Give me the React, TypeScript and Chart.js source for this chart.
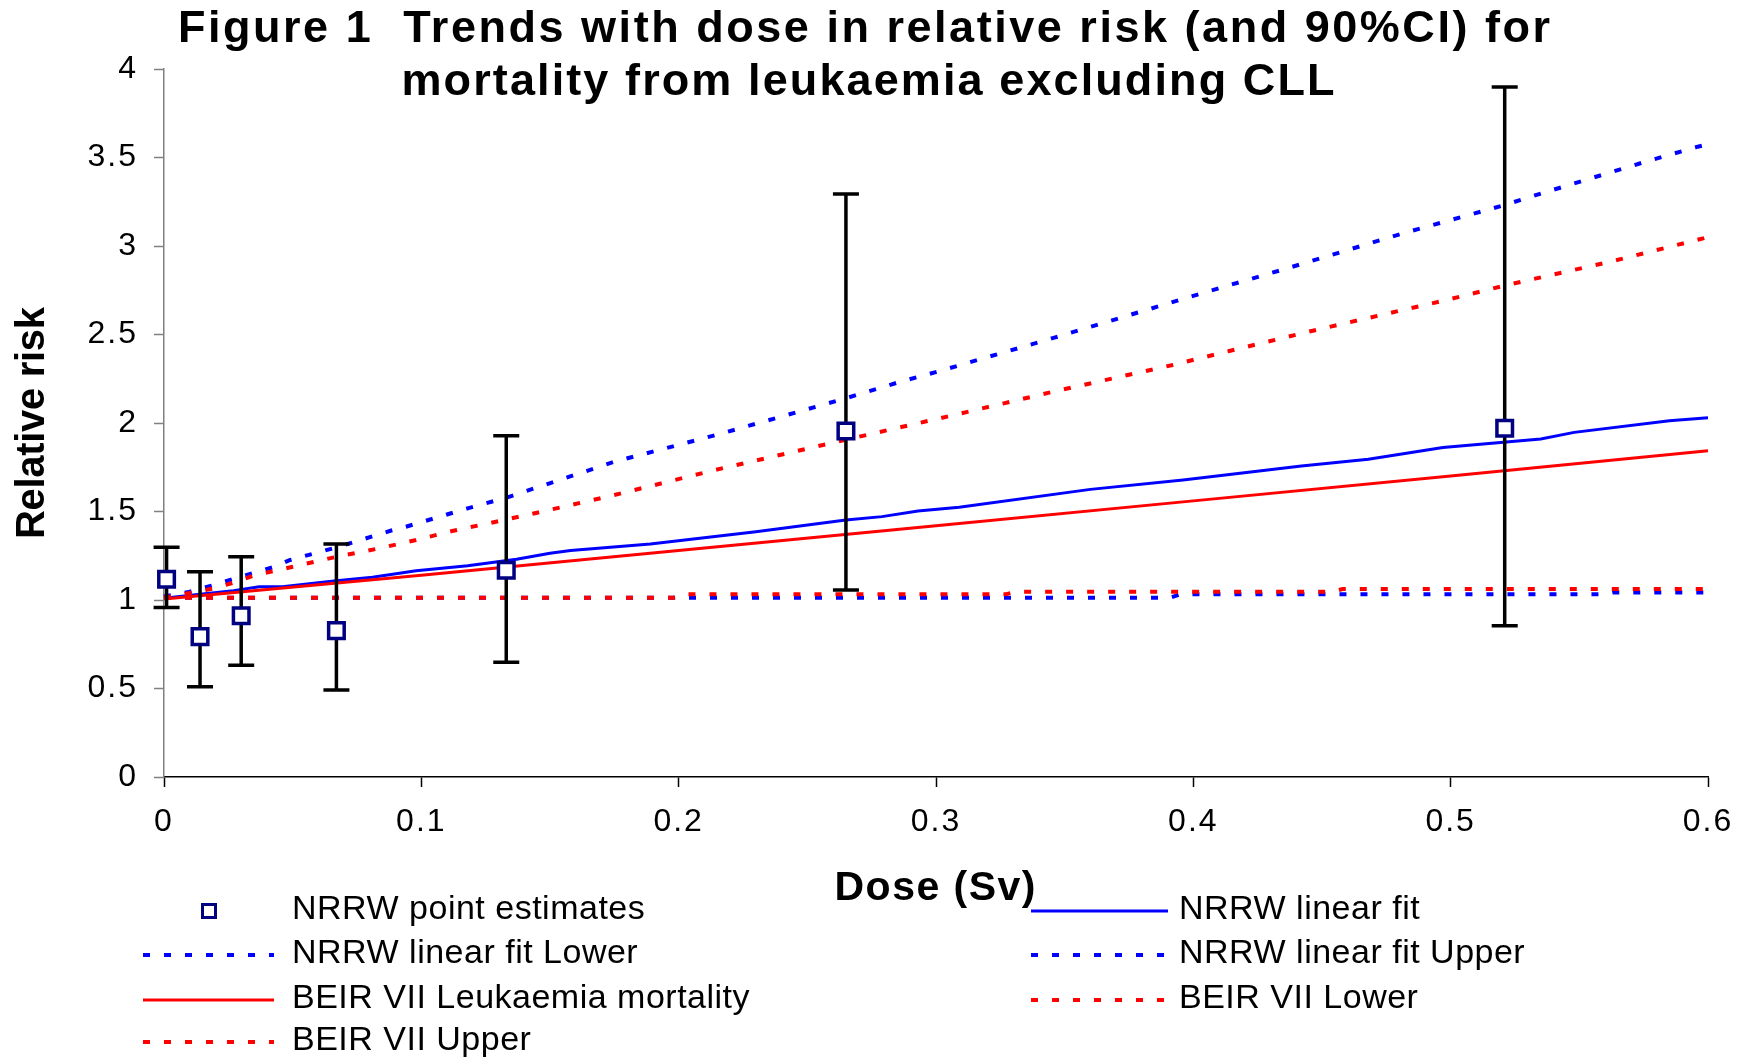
import React, { useEffect, useRef } from 'react';
import { Chart, registerables } from 'chart.js';

Chart.register(...registerables);

const FONT = '"Liberation Sans", Arial, Helvetica, sans-serif';

// ---------- text ----------
const titleLines = [
  'Figure 1  Trends with dose in relative risk (and 90%CI) for',
  'mortality from leukaemia excluding CLL',
];
const xAxisTitle = 'Dose (Sv)';
const yAxisTitle = 'Relative risk';

// ---------- ticks ----------
const xTickValues = [0, 0.1, 0.2, 0.3, 0.4, 0.5, 0.6];
const xTickLabels = ['0', '0.1', '0.2', '0.3', '0.4', '0.5', '0.6'];
const yTickValues = [0, 0.5, 1, 1.5, 2, 2.5, 3, 3.5, 4];
const yTickLabels = ['0', '0.5', '1', '1.5', '2', '2.5', '3', '3.5', '4'];

// ---------- NRRW point estimates with 90% CI ----------
const estimateDose = [0.001, 0.014, 0.03, 0.067, 0.133, 0.265, 0.521];
const estimateRR = [1.117, 0.793, 0.911, 0.827, 1.168, 1.955, 1.97];
const estimateLower = [0.957, 0.51, 0.631, 0.492, 0.648, 1.056, 0.855];
const estimateUpper = [1.298, 1.16, 1.245, 1.316, 1.928, 3.294, 3.898];

// ---------- NRRW linear fit ----------
const nrrwFitDose = [0, 0.014, 0.027, 0.037, 0.046, 0.066, 0.081, 0.098, 0.118, 0.137, 0.15, 0.158, 0.189, 0.23, 0.265, 0.279, 0.293, 0.309, 0.36, 0.396, 0.442, 0.468, 0.497, 0.535, 0.548, 0.585, 0.6];
const nrrwFitRR = [1.01, 1.032, 1.053, 1.075, 1.075, 1.107, 1.128, 1.165, 1.194, 1.23, 1.264, 1.279, 1.316, 1.386, 1.452, 1.471, 1.503, 1.524, 1.625, 1.678, 1.757, 1.795, 1.862, 1.91, 1.947, 2.013, 2.03];

const nrrwUpperDose = [0, 0.01, 0.018, 0.027, 0.035, 0.043, 0.049, 0.068, 0.088, 0.094, 0.118, 0.133, 0.175, 0.217, 0.265, 0.285, 0.302, 0.346, 0.407, 0.437, 0.482, 0.514, 0.521, 0.535, 0.575, 0.596, 0.6];
const nrrwUpperRR = [1.02, 1.047, 1.079, 1.119, 1.154, 1.188, 1.226, 1.301, 1.391, 1.414, 1.518, 1.578, 1.781, 1.942, 2.14, 2.228, 2.296, 2.482, 2.749, 2.876, 3.074, 3.203, 3.232, 3.296, 3.473, 3.561, 3.575];

const nrrwLowerDose = [0, 0.391, 0.395, 0.559, 0.563, 0.6];
const nrrwLowerRR = [1.013, 1.013, 1.032, 1.032, 1.043, 1.043];

// ---------- BEIR VII ----------
const beirDose = [0, 0.1, 0.2, 0.3, 0.4, 0.5, 0.6];
const beirRR = [1.005, 1.14, 1.28, 1.42, 1.56, 1.7, 1.843];

const beirUpperDose = [0, 0.01, 0.019, 0.027, 0.035, 0.05, 0.066, 0.083, 0.098, 0.112, 0.129, 0.145, 0.175, 0.214, 0.26, 0.307, 0.345, 0.392, 0.414, 0.446, 0.499, 0.522, 0.562, 0.6];
const beirUpperRR = [1.013, 1.04, 1.064, 1.098, 1.138, 1.188, 1.241, 1.29, 1.339, 1.39, 1.442, 1.493, 1.593, 1.734, 1.889, 2.045, 2.175, 2.328, 2.407, 2.52, 2.697, 2.78, 2.911, 3.05];

const beirLowerDose = [0, 0.198, 0.202, 0.327, 0.331, 0.454, 0.458, 0.6];
const beirLowerRR = [1.013, 1.013, 1.032, 1.032, 1.047, 1.047, 1.062, 1.062];

const toPoints = (xs: number[], ys: number[]) => xs.map((x, i) => ({ x, y: ys[i] }));

const BLUE = '#0000FF';
const RED = '#FF0000';
const NAVY = '#000080';
const DOT = [7, 14];

// legend layout: [dataset index, column, row]
const legendLayout: [number, number, number][] = [
  [0, 0, 0],
  [6, 1, 0],
  [4, 0, 1],
  [5, 1, 1],
  [3, 0, 2],
  [1, 1, 2],
  [2, 0, 3],
];
const legendCols = [
  { lineStart: 143, lineEnd: 274, marker: 209, text: 292 },
  { lineStart: 1031, lineEnd: 1168, marker: 1100, text: 1179 },
];
const legendRows = [911, 955, 1000, 1042];

function drawFitted(ctx: CanvasRenderingContext2D, text: string, cx: number, cy: number, font: string, width: number, baseline: CanvasTextBaseline, rotate = false) {
  ctx.save();
  ctx.font = font;
  (ctx as any).letterSpacing = '0px';
  const w = ctx.measureText(text).width;
  const n = Array.from(text).length;
  const sp = n > 1 ? (width - w) / (n - 1) : 0;
  (ctx as any).letterSpacing = `${sp}px`;
  ctx.translate(cx, cy);
  if (rotate) ctx.rotate(-Math.PI / 2);
  ctx.fillStyle = '#000';
  ctx.textAlign = 'left';
  ctx.textBaseline = baseline;
  ctx.fillText(text, -width / 2, 0);
  ctx.restore();
}

const decorPlugin = {
  id: 'figureDecor',
  beforeDraw(chart: any) {
    (chart.ctx as any).letterSpacing = '2px';
  },
  beforeDatasetDraw(chart: any, args: any) {
    if (args.index !== 0) return;
    const { ctx } = chart;
    const x = chart.scales.x;
    const y = chart.scales.y;
    ctx.save();
    ctx.setLineDash([]);
    ctx.strokeStyle = '#000';
    ctx.lineWidth = 3.5;
    ctx.lineCap = 'butt';
    estimateDose.forEach((d, i) => {
      const px = x.getPixelForValue(d);
      const top = y.getPixelForValue(estimateUpper[i]);
      const bot = y.getPixelForValue(estimateLower[i]);
      ctx.beginPath();
      ctx.moveTo(px, top);
      ctx.lineTo(px, bot);
      ctx.moveTo(px - 13, top);
      ctx.lineTo(px + 13, top);
      ctx.moveTo(px - 13, bot);
      ctx.lineTo(px + 13, bot);
      ctx.stroke();
    });
    ctx.restore();
  },
  afterDraw(chart: any) {
    const ctx: CanvasRenderingContext2D = chart.ctx;
    // titles
    drawFitted(ctx, titleLines[0], 864, 42, `bold 45px ${FONT}`, 1372, 'alphabetic');
    drawFitted(ctx, titleLines[1], 868, 95, `bold 45px ${FONT}`, 933, 'alphabetic');
    drawFitted(ctx, xAxisTitle, 935, 889, `bold 41px ${FONT}`, 201, 'middle');
    drawFitted(ctx, yAxisTitle, 33, 423, `bold 40px ${FONT}`, 232, 'middle', true);

    // legend
    legendLayout.forEach(([dsIndex, colIndex, rowIndex]) => {
      const ds = chart.data.datasets[dsIndex];
      const col = legendCols[colIndex];
      const yy = legendRows[rowIndex];
      ctx.save();
      if (dsIndex === 0) {
        ctx.setLineDash([]);
        ctx.fillStyle = '#fff';
        ctx.strokeStyle = ds.pointBorderColor;
        ctx.lineWidth = 3;
        ctx.fillRect(col.marker - 6.5, yy - 6.5, 13, 13);
        ctx.strokeRect(col.marker - 6.5, yy - 6.5, 13, 13);
      } else {
        ctx.setLineDash(ds.borderDash || []);
        ctx.strokeStyle = ds.borderColor;
        ctx.lineWidth = ds.borderWidth;
        ctx.lineCap = 'butt';
        ctx.beginPath();
        ctx.moveTo(col.lineStart, yy);
        ctx.lineTo(col.lineEnd, yy);
        ctx.stroke();
      }
      ctx.fillStyle = '#000';
      ctx.font = `34px ${FONT}`;
      (ctx as any).letterSpacing = '0.5px';
      ctx.textAlign = 'left';
      ctx.textBaseline = 'middle';
      ctx.fillText(ds.label, col.text, yy - 1);
      ctx.restore();
    });
  },
};

export default function App() {
  const ref = useRef<HTMLCanvasElement | null>(null);

  useEffect(() => {
    if (!ref.current) return;
    const lineDs = (label: string, xs: number[], ys: number[], color: string, width: number, dash: number[]) => ({
      label,
      data: toPoints(xs, ys),
      showLine: true,
      borderColor: color,
      backgroundColor: color,
      borderWidth: width,
      borderDash: dash,
      borderCapStyle: 'butt',
      pointRadius: 0,
      pointHoverRadius: 0,
      tension: 0,
      fill: false,
      clip: false,
    });

    const chart = new Chart(ref.current, {
      type: 'scatter',
      data: {
        datasets: [
          {
            label: 'NRRW point estimates',
            data: toPoints(estimateDose, estimateRR),
            showLine: false,
            pointStyle: 'rect',
            pointRadius: 11,
            pointHoverRadius: 11,
            pointBorderWidth: 3.5,
            pointBorderColor: NAVY,
            pointBackgroundColor: '#FFFFFF',
            borderColor: NAVY,
            backgroundColor: '#FFFFFF',
            clip: false,
          } as any,
          lineDs('BEIR VII Lower', beirLowerDose, beirLowerRR, RED, 4, DOT),
          lineDs('BEIR VII Upper', beirUpperDose, beirUpperRR, RED, 4, DOT),
          lineDs('BEIR VII Leukaemia mortality', beirDose, beirRR, RED, 3, []),
          lineDs('NRRW linear fit Lower', nrrwLowerDose, nrrwLowerRR, BLUE, 4, DOT),
          lineDs('NRRW linear fit Upper', nrrwUpperDose, nrrwUpperRR, BLUE, 4, DOT),
          lineDs('NRRW linear fit', nrrwFitDose, nrrwFitRR, BLUE, 3, []),
        ],
      },
      options: {
        responsive: false,
        animation: false,
        devicePixelRatio: 1,
        events: [],
        layout: { padding: { top: 69, right: 41, bottom: 221, left: 0 } },
        plugins: {
          legend: { display: false },
          title: { display: false },
          tooltip: { enabled: false },
        },
        scales: {
          x: {
            type: 'linear',
            min: 0,
            max: 0.6,
            afterBuildTicks: (scale: any) => {
              scale.ticks = xTickValues.map((v) => ({ value: v }));
            },
            afterFit: (scale: any) => {
              scale.height = 60;
            },
            ticks: {
              callback: (_v: any, i: number) => xTickLabels[i],
              font: { family: FONT, size: 32 },
              color: '#000',
              padding: 16,
              maxRotation: 0,
              autoSkip: false,
            },
            grid: {
              display: true,
              drawOnChartArea: false,
              drawTicks: true,
              tickLength: 10,
              tickColor: '#000',
              tickWidth: 1.5,
            },
            border: { display: true, color: '#000', width: 1.5 },
          },
          y: {
            type: 'linear',
            min: 0,
            max: 4,
            afterBuildTicks: (scale: any) => {
              scale.ticks = yTickValues.map((v) => ({ value: v }));
            },
            afterFit: (scale: any) => {
              scale.width = 164;
            },
            ticks: {
              callback: (_v: any, i: number) => yTickLabels[i],
              font: { family: FONT, size: 32 },
              color: '#000',
              padding: 16,
              autoSkip: false,
            },
            grid: {
              display: true,
              drawOnChartArea: false,
              drawTicks: true,
              tickLength: 10,
              tickColor: '#808080',
              tickWidth: 1.5,
            },
            border: { display: true, color: '#808080', width: 1.5 },
          },
        },
      } as any,
      plugins: [decorPlugin as any],
    });

    return () => chart.destroy();
  }, []);

  return (
    <div style={{ position: 'absolute', left: 0, top: 0, width: 1749, height: 1058, background: '#fff', overflow: 'hidden' }}>
      <canvas ref={ref} width={1749} height={1058} style={{ display: 'block', width: 1749, height: 1058 }} />
    </div>
  );
}
